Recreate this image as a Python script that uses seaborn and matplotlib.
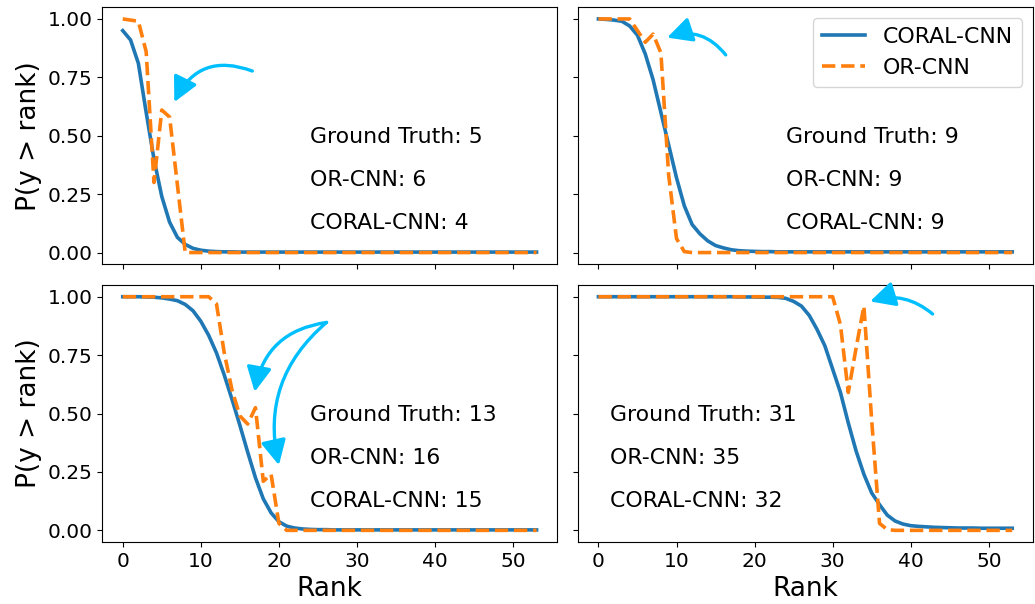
import numpy as np
import pandas as pd
import matplotlib
matplotlib.use('Agg')
import matplotlib.pyplot as plt
import seaborn as sns

# DATA
ranks = list(range(54))

# panel 1: ground truth 5
coral_p1 = [0.95, 0.91, 0.81, 0.60, 0.40, 0.24, 0.13, 0.065, 0.035, 0.018,
            0.010, 0.006, 0.004, 0.003, 0.003, 0.002, 0.002, 0.002, 0.002, 0.002,
            0.002, 0.002, 0.002, 0.002, 0.002, 0.002, 0.002, 0.002, 0.002, 0.002,
            0.002, 0.002, 0.002, 0.002, 0.002, 0.002, 0.002, 0.002, 0.002, 0.002,
            0.002, 0.002, 0.002, 0.002, 0.002, 0.002, 0.002, 0.002, 0.002, 0.002,
            0.002, 0.002, 0.002, 0.002]
orcnn_p1 = [1.00, 0.995, 0.99, 0.86, 0.30, 0.61, 0.58, 0.29, 0.0, 0.0,
            0.0, 0.0, 0.0, 0.0, 0.0, 0.0, 0.0, 0.0, 0.0, 0.0,
            0.0, 0.0, 0.0, 0.0, 0.0, 0.0, 0.0, 0.0, 0.0, 0.0,
            0.0, 0.0, 0.0, 0.0, 0.0, 0.0, 0.0, 0.0, 0.0, 0.0,
            0.0, 0.0, 0.0, 0.0, 0.0, 0.0, 0.0, 0.0, 0.0, 0.0,
            0.0, 0.0, 0.0, 0.0]

# panel 2: ground truth 9
coral_p2 = [1.00, 0.998, 0.995, 0.99, 0.97, 0.93, 0.85, 0.74, 0.60, 0.46,
            0.32, 0.20, 0.12, 0.08, 0.05, 0.03, 0.02, 0.012, 0.008, 0.006,
            0.005, 0.004, 0.004, 0.003, 0.003, 0.003, 0.003, 0.003, 0.003, 0.003,
            0.003, 0.003, 0.003, 0.003, 0.003, 0.003, 0.003, 0.003, 0.003, 0.003,
            0.003, 0.003, 0.003, 0.003, 0.003, 0.003, 0.003, 0.003, 0.003, 0.003,
            0.003, 0.003, 0.003, 0.003]
orcnn_p2 = [1.00, 1.00, 1.00, 1.00, 1.00, 0.95, 0.90, 0.935, 0.855, 0.33,
            0.06, 0.004, 0.0, 0.0, 0.0, 0.0, 0.0, 0.0, 0.0, 0.0,
            0.0, 0.0, 0.0, 0.0, 0.0, 0.0, 0.0, 0.0, 0.0, 0.0,
            0.0, 0.0, 0.0, 0.0, 0.0, 0.0, 0.0, 0.0, 0.0, 0.0,
            0.0, 0.0, 0.0, 0.0, 0.0, 0.0, 0.0, 0.0, 0.0, 0.0,
            0.0, 0.0, 0.0, 0.0]

# panel 3: ground truth 13
coral_p3 = [1.00, 1.00, 1.00, 0.999, 0.998, 0.995, 0.99, 0.983, 0.967, 0.94,
            0.895, 0.835, 0.76, 0.665, 0.56, 0.45, 0.335, 0.225, 0.135, 0.075,
            0.037, 0.018, 0.010, 0.006, 0.004, 0.003, 0.003, 0.002, 0.002, 0.002,
            0.002, 0.002, 0.002, 0.002, 0.002, 0.002, 0.002, 0.002, 0.002, 0.002,
            0.002, 0.002, 0.002, 0.002, 0.002, 0.002, 0.002, 0.002, 0.002, 0.002,
            0.002, 0.002, 0.002, 0.002]
orcnn_p3 = [1.00, 1.00, 1.00, 1.00, 1.00, 1.00, 1.00, 1.00, 1.00, 1.00,
            1.00, 1.00, 0.97, 0.76, 0.60, 0.49, 0.455, 0.525, 0.21, 0.24,
            0.03, 0.0, 0.0, 0.0, 0.0, 0.0, 0.0, 0.0, 0.0, 0.0,
            0.0, 0.0, 0.0, 0.0, 0.0, 0.0, 0.0, 0.0, 0.0, 0.0,
            0.0, 0.0, 0.0, 0.0, 0.0, 0.0, 0.0, 0.0, 0.0, 0.0,
            0.0, 0.0, 0.0, 0.0]

# panel 4: ground truth 31
coral_p4 = [1.00, 1.00, 1.00, 1.00, 1.00, 1.00, 1.00, 1.00, 1.00, 1.00,
            1.00, 1.00, 1.00, 1.00, 1.00, 1.00, 1.00, 1.00, 0.999, 0.999,
            0.999, 0.998, 0.998, 0.997, 0.993, 0.98, 0.96, 0.92, 0.86, 0.79,
            0.69, 0.59, 0.46, 0.34, 0.24, 0.16, 0.11, 0.065, 0.04, 0.027,
            0.02, 0.017, 0.015, 0.013, 0.012, 0.011, 0.010, 0.010, 0.010, 0.009,
            0.009, 0.009, 0.009, 0.009]
orcnn_p4 = [1.00, 1.00, 1.00, 1.00, 1.00, 1.00, 1.00, 1.00, 1.00, 1.00,
            1.00, 1.00, 1.00, 1.00, 1.00, 1.00, 1.00, 1.00, 1.00, 1.00,
            1.00, 1.00, 1.00, 1.00, 1.00, 1.00, 1.00, 1.00, 1.00, 1.00,
            1.00, 0.88, 0.59, 0.78, 0.96, 0.47, 0.03, 0.003, 0.0, 0.0,
            0.0, 0.0, 0.0, 0.0, 0.0, 0.0, 0.0, 0.0, 0.0, 0.0,
            0.0, 0.0, 0.0, 0.0]

ground_truth = [5, 9, 13, 31]
orcnn_pred = [6, 9, 16, 35]
coral_pred = [4, 9, 15, 32]
text_x = [24.0, 24.0, 24.0, 1.5]

# arrows: (tail_x, tail_y, head_x, head_y, rad) per panel
arrows = [
    [(16.6, 0.777, 6.6, 0.644, 0.45)],
    [(16.3, 0.846, 8.8, 0.92, 0.35)],
    [(26.1, 0.89, 16.9, 0.593, 0.36), (26.1, 0.89, 20.0, 0.279, 0.3)],
    [(42.8, 0.926, 34.8, 0.98, 0.27)],
]

coral_all = [coral_p1, coral_p2, coral_p3, coral_p4]
orcnn_all = [orcnn_p1, orcnn_p2, orcnn_p3, orcnn_p4]

fig, axes = plt.subplots(2, 2, figsize=(10.35, 6.04), dpi=100,
                         sharex=True, sharey=True)
plt.subplots_adjust(left=0.0986, right=0.998, top=0.988, bottom=0.1026,
                    wspace=0.045, hspace=0.081)

blue = '#1f77b4'
orange = '#ff7f0e'
arrow_color = '#00bfff'

for i, ax in enumerate(axes.flat):
    df = pd.DataFrame({'Rank': ranks, 'CORAL': coral_all[i], 'OR': orcnn_all[i]})

    sns.lineplot(data=df, x='Rank', y='CORAL', ax=ax, color=blue,
                 linewidth=2.6, label='CORAL-CNN', legend=False)
    sns.lineplot(data=df, x='Rank', y='OR', ax=ax, color=orange,
                 linewidth=2.6, linestyle='--', label='OR-CNN', legend=False)

    ax.set_xlabel('')
    ax.set_ylabel('')
    ax.set_yticks([0.0, 0.25, 0.5, 0.75, 1.0])
    ax.set_xticks([0, 10, 20, 30, 40, 50])
    ax.tick_params(labelsize=14.5)

    ax.text(text_x[i], 0.47, f'Ground Truth: {ground_truth[i]}', fontsize=15.8)
    ax.text(text_x[i], 0.285, f'OR-CNN: {orcnn_pred[i]}', fontsize=15.8)
    ax.text(text_x[i], 0.10, f'CORAL-CNN: {coral_pred[i]}', fontsize=15.8)

    for tx, ty, hx, hy, rad in arrows[i]:
        ax.annotate('', xy=(hx, hy), xytext=(tx, ty),
                    arrowprops=dict(
                        arrowstyle='-|>,head_length=0.75,head_width=0.38',
                        connectionstyle=f'arc3,rad={rad}',
                        color=arrow_color, lw=2.4,
                        mutation_scale=20,
                        shrinkA=0, shrinkB=0
                    ))

axes[0, 1].legend(handles=axes[0, 1].lines[:2],
                  labels=['CORAL-CNN', 'OR-CNN'],
                  loc='upper right', fontsize=15.8)

for ax in axes[:, 0]:
    ax.set_ylabel('P(y > rank)', fontsize=19)
for ax in axes[1, :]:
    ax.set_xlabel('Rank', fontsize=19)

plt.savefig('out.png', dpi=100)
